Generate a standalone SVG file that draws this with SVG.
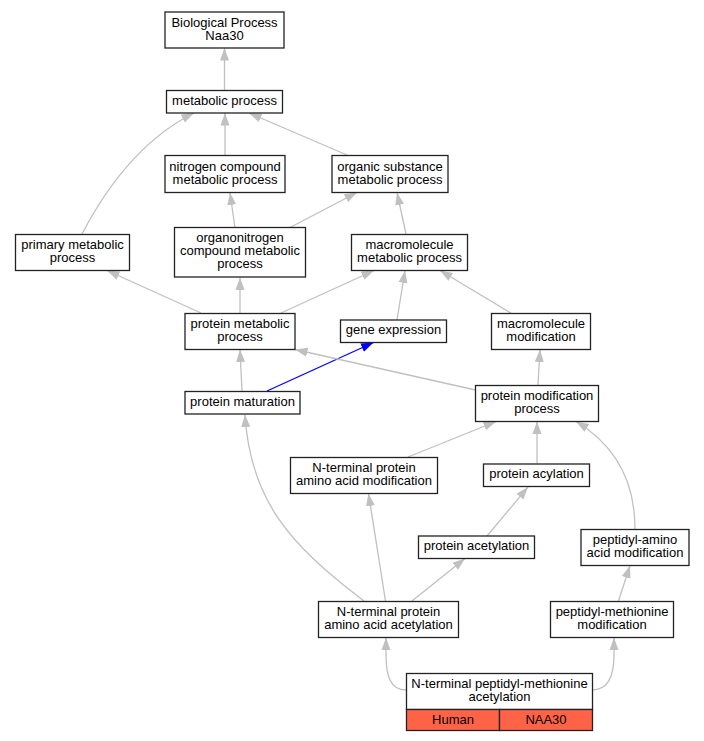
<svg xmlns="http://www.w3.org/2000/svg" width="704" height="741" viewBox="0 0 704 741">
<style>
.n rect{fill:#fff;stroke:#222;stroke-width:1.3}
.n text{font-family:"Liberation Sans",Arial,sans-serif;font-size:13px;fill:#000;text-anchor:middle}
.e{fill:none;stroke:#c0c0c0;stroke-width:1.3}
.b{fill:none;stroke:#0000ff;stroke-width:1.3}
rect.o{fill:#ff6347;stroke:#222;stroke-width:1.3}
</style>
<defs>
<marker id="ag" markerUnits="userSpaceOnUse" markerWidth="13" markerHeight="10" viewBox="0 0 13 10" refX="12.5" refY="5" orient="auto"><path d="M0,0.5 L12.5,5 L0,9.5 z" fill="#c0c0c0"/></marker>
<marker id="ab" markerUnits="userSpaceOnUse" markerWidth="13" markerHeight="10" viewBox="0 0 13 10" refX="12.5" refY="5" orient="auto"><path d="M0,0.5 L12.5,5 L0,9.5 z" fill="#0000ff"/></marker>
</defs>
<rect width="704" height="741" fill="#fff"/>
<g id="edges">
<path class="e" marker-end="url(#ag)" d="M224.5,90 L224.5,48"/>
<path class="e" marker-end="url(#ag)" d="M225,155 L225,113"/>
<path class="e" marker-end="url(#ag)" d="M347,155 L249,113"/>
<path class="e" marker-end="url(#ag)" d="M82,234 C105,190 140,140 194,113"/>
<path class="e" marker-end="url(#ag)" d="M235,228 L230,192.5"/>
<path class="e" marker-end="url(#ag)" d="M289,228 L357,192.5"/>
<path class="e" marker-end="url(#ag)" d="M406,234 L397,192.5"/>
<path class="e" marker-end="url(#ag)" d="M201,313 L107,270.5"/>
<path class="e" marker-end="url(#ag)" d="M240,313 L240,277.5"/>
<path class="e" marker-end="url(#ag)" d="M281,313 L374,270.5"/>
<path class="e" marker-end="url(#ag)" d="M397,320 L405,270.5"/>
<path class="e" marker-end="url(#ag)" d="M511,313 L440,270.5"/>
<path class="e" marker-end="url(#ag)" d="M242,391 L240,349.5"/>
<path class="b" marker-end="url(#ab)" d="M267,391 L373.5,342.5"/>
<path class="e" marker-end="url(#ag)" d="M475.5,390 L295,349.5"/>
<path class="e" marker-end="url(#ag)" d="M538,385 L540,349.5"/>
<path class="e" marker-end="url(#ag)" d="M408,457 L496,421.5"/>
<path class="e" marker-end="url(#ag)" d="M537,463.5 L537,421.5"/>
<path class="e" marker-end="url(#ag)" d="M635,529 C635,480 615,445 576,421.5"/>
<path class="e" marker-end="url(#ag)" d="M364,601 C290,545 250,500 245,414.5"/>
<path class="e" marker-end="url(#ag)" d="M385.5,601 L368.5,493.5"/>
<path class="e" marker-end="url(#ag)" d="M412,601 L465,558.5"/>
<path class="e" marker-end="url(#ag)" d="M487,536 L528,487"/>
<path class="e" marker-end="url(#ag)" d="M618.5,601 L630,565.5"/>
<path class="e" marker-end="url(#ag)" d="M406,690 C390,690 386,675 386,655 L386,637.5"/>
<path class="e" marker-end="url(#ag)" d="M592,690 C608,690 614,675 614,655 L614,637.5"/>
</g>
<g id="n1" class="n"><rect x="165" y="12" width="119" height="36"/><text x="224.5" y="26.5">Biological Process<tspan x="224.5" dy="13">Naa30</tspan></text></g>
<g id="n2" class="n"><rect x="166.5" y="90.5" width="116" height="22.5"/><text x="224.5" y="104.5">metabolic process</text></g>
<g id="n3" class="n"><rect x="165" y="155.5" width="120" height="37"/><text x="225" y="170.5">nitrogen compound<tspan x="225" dy="13">metabolic process</tspan></text></g>
<g id="n4" class="n"><rect x="332" y="155.5" width="116" height="37"/><text x="390" y="170.5">organic substance<tspan x="390" dy="13">metabolic process</tspan></text></g>
<g id="n5" class="n"><rect x="15.5" y="234.5" width="114" height="36"/><text x="72.5" y="249">primary metabolic<tspan x="72.5" dy="13">process</tspan></text></g>
<g id="n6" class="n"><rect x="174.5" y="227.5" width="131" height="49.5"/><text x="240" y="241.7">organonitrogen<tspan x="240" dy="13.3">compound metabolic</tspan><tspan x="240" dy="13.3">process</tspan></text></g>
<g id="n7" class="n"><rect x="351.5" y="234.5" width="116" height="36"/><text x="409.5" y="249">macromolecule<tspan x="409.5" dy="13">metabolic process</tspan></text></g>
<g id="n8" class="n"><rect x="185" y="313.5" width="110" height="36"/><text x="240" y="328">protein metabolic<tspan x="240" dy="13">process</tspan></text></g>
<g id="n9" class="n"><rect x="340.5" y="320" width="106" height="22.5"/><text x="393.5" y="334">gene expression</text></g>
<g id="n10" class="n"><rect x="491.5" y="313.5" width="99" height="36"/><text x="541" y="328">macromolecule<tspan x="541" dy="13">modification</tspan></text></g>
<g id="n11" class="n"><rect x="185" y="391.5" width="115" height="22.5"/><text x="242.5" y="405.5">protein maturation</text></g>
<g id="n12" class="n"><rect x="475.5" y="385.5" width="123" height="36"/><text x="537" y="400">protein modification<tspan x="537" dy="13">process</tspan></text></g>
<g id="n13" class="n"><rect x="290.5" y="457.5" width="147" height="36"/><text x="364" y="472">N-terminal protein<tspan x="364" dy="13">amino acid modification</tspan></text></g>
<g id="n14" class="n"><rect x="483.5" y="464" width="106" height="22.5"/><text x="536.5" y="478">protein acylation</text></g>
<g id="n15" class="n"><rect x="418.5" y="536" width="116" height="22.5"/><text x="476.5" y="550">protein acetylation</text></g>
<g id="n16" class="n"><rect x="581" y="529.5" width="108" height="36"/><text x="635" y="544">peptidyl-amino<tspan x="635" dy="13">acid modification</tspan></text></g>
<g id="n17" class="n"><rect x="318.5" y="601.5" width="140" height="36"/><text x="388.5" y="616">N-terminal protein<tspan x="388.5" dy="13">amino acid acetylation</tspan></text></g>
<g id="n18" class="n"><rect x="550.5" y="601.5" width="123" height="36"/><text x="612" y="616">peptidyl-methionine<tspan x="612" dy="13">modification</tspan></text></g>
<g id="n19" class="n"><rect x="406.5" y="673.5" width="186" height="36"/><text x="499.5" y="688">N-terminal peptidyl-methionine<tspan x="499.5" dy="13">acetylation</tspan></text>
<rect class="o" x="406.5" y="709.5" width="93" height="21"/><rect class="o" x="499.5" y="709.5" width="93" height="21"/>
<text x="453" y="723.5">Human</text><text x="546" y="723.5">NAA30</text></g>
</svg>
